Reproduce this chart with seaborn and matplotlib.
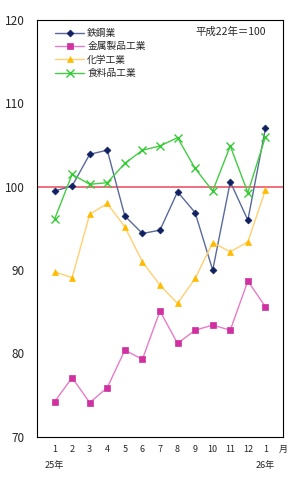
import numpy as np
import pandas as pd
import matplotlib
matplotlib.use('Agg')
import matplotlib.pyplot as plt
import seaborn as sns

# データ（平成22年＝100）
months = list(range(1, 14))
month_labels = ['1', '2', '3', '4', '5', '6', '7', '8', '9', '10', '11', '12', '1']
tekko = [99.5, 100.1, 103.9, 104.4, 96.5, 94.4, 94.8, 99.4, 96.9, 90.0, 100.6, 96.0, 107.0]
kinzoku = [74.2, 77.1, 74.1, 75.9, 80.4, 79.3, 85.1, 81.2, 82.8, 83.4, 82.8, 88.7, 85.6]
kagaku = [89.8, 89.1, 96.7, 98.0, 95.2, 91.0, 88.2, 86.0, 89.0, 93.3, 92.2, 93.4, 99.6]
shokuryo = [96.1, 101.5, 100.3, 100.5, 102.8, 104.4, 104.9, 105.9, 102.2, 99.5, 104.9, 99.3, 106.0]

series = {
    '鉄鋼業': tekko,
    '金属製品工業': kinzoku,
    '化学工業': kagaku,
    '食料品工業': shokuryo,
}
line_colors = ['#5a6a9a', '#e77cc8', '#ffd070', '#44cc44']
marker_colors = ['#102060', '#d030a0', '#ffbb00', '#33cc33']
markers = ['D', 's', '^', 'x']
msizes = [3.5, 4, 5, 6]

sns.set_style('white')
plt.rcParams['font.family'] = ['Noto Sans CJK JP', 'DejaVu Sans']

fig = plt.figure(figsize=(3.03, 4.80), dpi=100)
ax = fig.add_axes([0.122, 0.090, 0.812, 0.868])

ax.axhline(100, color='#ee5566', lw=1.2, zorder=1)

for (name, vals), lc, mc, mk, ms in zip(series.items(), line_colors, marker_colors, markers, msizes):
    df = pd.DataFrame({'month': months, 'value': vals})
    sns.lineplot(data=df, x='month', y='value', ax=ax, color=lc, lw=1.0,
                 marker=mk, markersize=ms, markerfacecolor=mc, markeredgecolor=mc,
                 markeredgewidth=1.0 if mk == 'x' else 0.5, label=name, zorder=3)

ax.set_xlim(0, 14)
ax.set_ylim(70, 120)
ax.set_yticks([70, 80, 90, 100, 110, 120])
ax.set_yticklabels(['70', '80', '90', '100', '110', '120'], fontsize=8.5)
ax.set_xticks(months + [14])
ax.set_xticklabels(month_labels + ['月'], fontsize=6.5)
ax.tick_params(axis='both', direction='in', length=3, width=0.8, color='black', pad=6)
ax.tick_params(axis='y', pad=9)
ax.set_xlabel('')
ax.set_ylabel('')
for s in ax.spines.values():
    s.set_color('black')
    s.set_linewidth(0.8)

ax.text(1, -0.058, '25年', transform=ax.get_xaxis_transform(), ha='center', va='top', fontsize=6.5)
ax.text(13, -0.058, '26年', transform=ax.get_xaxis_transform(), ha='center', va='top', fontsize=6.5)
ax.text(0.93, 0.985, '平成22年＝100', transform=ax.transAxes, ha='right', va='top', fontsize=7.5)

ax.legend(loc='upper left', bbox_to_anchor=(0.05, 0.995), frameon=False, fontsize=7,
          handlelength=3, labelspacing=0.35, borderaxespad=0.2, handletextpad=0.3)

fig.savefig('out.png', dpi=100)
